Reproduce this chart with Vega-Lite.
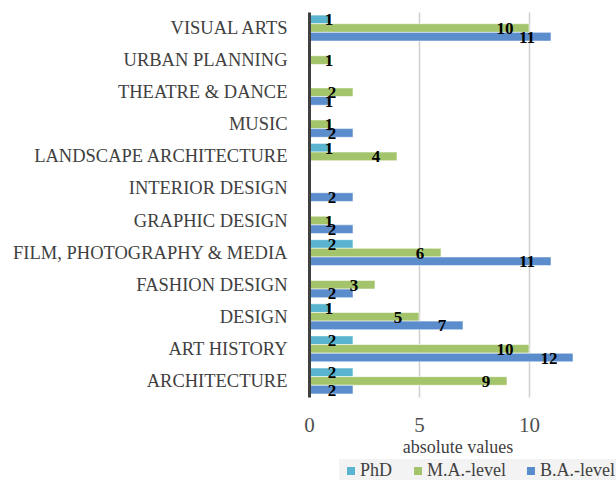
{
  "$schema": "https://vega.github.io/schema/vega-lite/v6.json",
  "width": 297,
  "height": 385,
  "autosize": {"type": "none"},
  "padding": {"left": 309, "top": 12, "right": 10, "bottom": 83},
  "background": "white",
  "config": {
    "view": {"stroke": null},
    "font": "Liberation Serif",
    "axis": {"labelFont": "Liberation Serif", "titleFont": "Liberation Serif"},
    "legend": {"labelFont": "Liberation Serif"}
  },
  "data": {
    "values": [
      {"field": "VISUAL ARTS", "level": "PhD", "value": 1},
      {"field": "VISUAL ARTS", "level": "M.A.-level", "value": 10},
      {"field": "VISUAL ARTS", "level": "B.A.-level", "value": 11},
      {"field": "URBAN PLANNING", "level": "M.A.-level", "value": 1},
      {"field": "THEATRE & DANCE ", "level": "M.A.-level", "value": 2},
      {"field": "THEATRE & DANCE ", "level": "B.A.-level", "value": 1},
      {"field": "MUSIC", "level": "M.A.-level", "value": 1},
      {"field": "MUSIC", "level": "B.A.-level", "value": 2},
      {"field": "LANDSCAPE ARCHITECTURE", "level": "PhD", "value": 1},
      {"field": "LANDSCAPE ARCHITECTURE", "level": "M.A.-level", "value": 4},
      {"field": "INTERIOR DESIGN", "level": "B.A.-level", "value": 2},
      {"field": "GRAPHIC DESIGN", "level": "M.A.-level", "value": 1},
      {"field": "GRAPHIC DESIGN", "level": "B.A.-level", "value": 2},
      {"field": "FILM, PHOTOGRAPHY & MEDIA", "level": "PhD", "value": 2},
      {"field": "FILM, PHOTOGRAPHY & MEDIA", "level": "M.A.-level", "value": 6},
      {"field": "FILM, PHOTOGRAPHY & MEDIA", "level": "B.A.-level", "value": 11},
      {"field": "FASHION DESIGN", "level": "M.A.-level", "value": 3},
      {"field": "FASHION DESIGN", "level": "B.A.-level", "value": 2},
      {"field": "DESIGN", "level": "PhD", "value": 1},
      {"field": "DESIGN", "level": "M.A.-level", "value": 5},
      {"field": "DESIGN", "level": "B.A.-level", "value": 7},
      {"field": "ART HISTORY", "level": "PhD", "value": 2},
      {"field": "ART HISTORY", "level": "M.A.-level", "value": 10},
      {"field": "ART HISTORY", "level": "B.A.-level", "value": 12},
      {"field": "ARCHITECTURE", "level": "PhD", "value": 2},
      {"field": "ARCHITECTURE", "level": "M.A.-level", "value": 9},
      {"field": "ARCHITECTURE", "level": "B.A.-level", "value": 2}
    ]
  },
  "encoding": {
    "y": {
      "field": "field",
      "type": "nominal",
      "sort": ["VISUAL ARTS", "URBAN PLANNING", "THEATRE & DANCE ", "MUSIC", "LANDSCAPE ARCHITECTURE", "INTERIOR DESIGN", "GRAPHIC DESIGN", "FILM, PHOTOGRAPHY & MEDIA", "FASHION DESIGN", "DESIGN", "ART HISTORY", "ARCHITECTURE"],
      "scale": {"paddingInner": 0.19, "paddingOuter": 0.095},
      "axis": {
        "title": null,
        "ticks": false,
        "domainColor": "#404040",
        "domainWidth": 3,
        "labelFont": "Liberation Serif",
        "labelFontSize": 18.5,
        "labelColor": "#404040",
        "labelPadding": 22,
        "labelLimit": 400,
        "zindex": 2
      }
    },
    "yOffset": {"field": "level", "type": "nominal", "sort": ["PhD", "M.A.-level", "B.A.-level"]},
    "x": {
      "field": "value",
      "type": "quantitative",
      "scale": {"domain": [0, 13.5], "nice": false},
      "axis": {
        "values": [0, 5, 10],
        "grid": true,
        "gridColor": "#d0d0d0",
        "gridWidth": 1.5,
        "domain": false,
        "ticks": false,
        "labelFlush": false,
        "labelFont": "Liberation Serif",
        "labelFontSize": 21,
        "labelColor": "#505050",
        "labelPadding": 17,
        "title": "absolute values",
        "titleFont": "Liberation Serif",
        "titleFontSize": 18,
        "titleFontWeight": "normal",
        "titleColor": "#404040",
        "titlePadding": 3
      }
    }
  },
  "layer": [
    {
      "mark": {"type": "bar", "stroke": "white", "strokeWidth": 0.8, "strokeOpacity": 0.7},
      "encoding": {
        "color": {
          "field": "level",
          "type": "nominal",
          "sort": ["PhD", "M.A.-level", "B.A.-level"],
          "scale": {"domain": ["PhD", "M.A.-level", "B.A.-level"], "range": ["#5AB4CF", "#A4C46C", "#5B8CCB"]},
          "legend": {
            "title": null,
            "orient": "none",
            "direction": "horizontal",
            "gridAlign": "none",
            "legendX": 30,
            "legendY": 447,
            "symbolType": "square",
            "symbolSize": 64,
            "symbolStrokeWidth": 0,
            "labelFont": "Liberation Serif",
            "labelFontSize": 18,
            "labelColor": "#404040",
            "labelOffset": 0,
            "columnPadding": 16,
            "fillColor": "#f3f3f3",
            "padding": 3
          }
        }
      }
    },
    {
      "mark": {
        "type": "text",
        "font": "Liberation Serif",
        "fontWeight": "bold",
        "fontSize": 17,
        "color": "black",
        "align": "center",
        "baseline": "middle",
        "dy": 1,
        "dx": {"expr": "datum.value == 1 ? -2 : (datum.value >= 10 ? -24 : -21)"}
      },
      "encoding": {"text": {"field": "value", "type": "quantitative"}}
    }
  ]
}
